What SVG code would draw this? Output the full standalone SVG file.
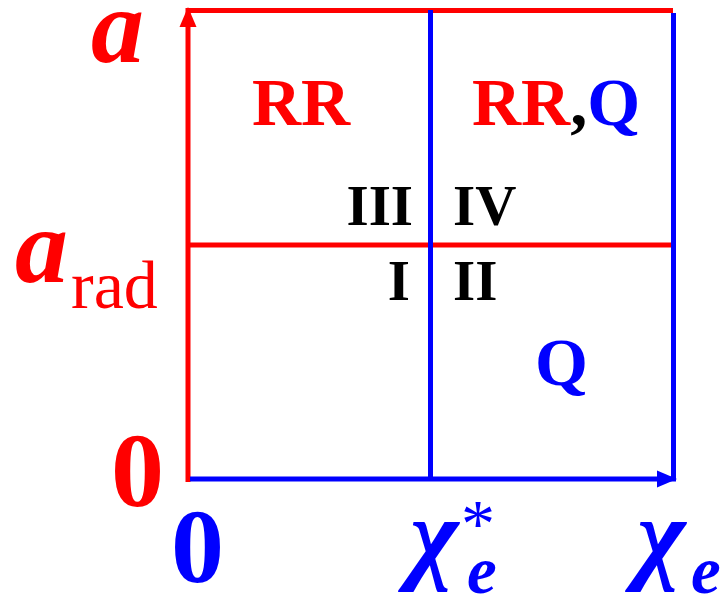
<svg xmlns="http://www.w3.org/2000/svg" width="724" height="601" viewBox="0 0 724 601">
<style>
text{font-family:'Liberation Serif','Times New Roman',serif}
.bold{font-weight:700}
.ital{font-style:italic}
.red{fill:#ff0000}
.blue{fill:#0000ff}
.black{fill:#000000}
.lr{stroke:#ff0000;stroke-width:5;fill:none}
.lb{stroke:#0000ff;stroke-width:5;fill:none}
</style>
<defs>
<marker id="ar" markerWidth="4" markerHeight="4" refX="3.8" refY="2" orient="auto" markerUnits="strokeWidth" viewBox="0 0 4 4"><path d="M0,0.3 L4,2 L0,3.7 Z" fill="#ff0000"/></marker>
<marker id="ab" markerWidth="4" markerHeight="4" refX="3.8" refY="2" orient="auto" markerUnits="strokeWidth" viewBox="0 0 4 4"><path d="M0,0.3 L4,2 L0,3.7 Z" fill="#0000ff"/></marker>
</defs>
<rect width="724" height="601" fill="#ffffff"/>
<g id="connectors">
<line class="lr" x1="188" y1="10.5" x2="673" y2="10.5"/>
<line class="lr" x1="188" y1="245" x2="671" y2="245"/>
<line class="lr" x1="188" y1="482" x2="188" y2="8" marker-end="url(#ar)"/>
<line class="lb" x1="673.5" y1="13" x2="673.5" y2="477"/>
<line class="lb" x1="430.5" y1="10" x2="430.5" y2="479"/>
<line class="lb" x1="190" y1="479" x2="676" y2="479" marker-end="url(#ab)"/>
</g>
<g id="label-a"><text class="bold ital red" x="91" y="62" font-size="106">a</text></g>
<g id="label-arad"><text class="bold ital red" x="15" y="282" font-size="106">a</text><text class="red" x="71" y="308" font-size="68">rad</text></g>
<g id="label-0a"><text class="bold red" x="137.5" y="506" font-size="106" text-anchor="middle">0</text></g>
<g id="label-0b"><text class="bold blue" x="197.5" y="582" font-size="106" text-anchor="middle">0</text></g>
<g id="label-RR"><text class="bold red" x="252" y="125" font-size="68">RR</text></g>
<g id="label-RRQ"><text class="bold" x="472" y="125" font-size="68"><tspan class="red">RR</tspan><tspan class="black">,</tspan><tspan class="blue">Q</tspan></text></g>
<g id="label-III"><text class="bold black" x="413" y="225" font-size="57" text-anchor="end">III</text></g>
<g id="label-IV"><text class="bold black" x="453" y="225" font-size="57">IV</text></g>
<g id="label-I"><text class="bold black" x="410" y="300" font-size="57" text-anchor="end">I</text></g>
<g id="label-II"><text class="bold black" x="453" y="300" font-size="57">II</text></g>
<g id="label-Q"><text class="bold blue" x="535" y="385" font-size="68">Q</text></g>
<g id="label-chistar"><text class="bold ital blue" x="410" y="570" font-size="104">χ</text><text class="bold ital blue" x="467" y="593" font-size="67">e</text><text class="blue" x="461" y="546" font-size="68">*</text></g>
<g id="label-chi"><text class="bold ital blue" x="637" y="570" font-size="104">χ</text><text class="bold ital blue" x="691" y="593" font-size="67">e</text></g>
</svg>
